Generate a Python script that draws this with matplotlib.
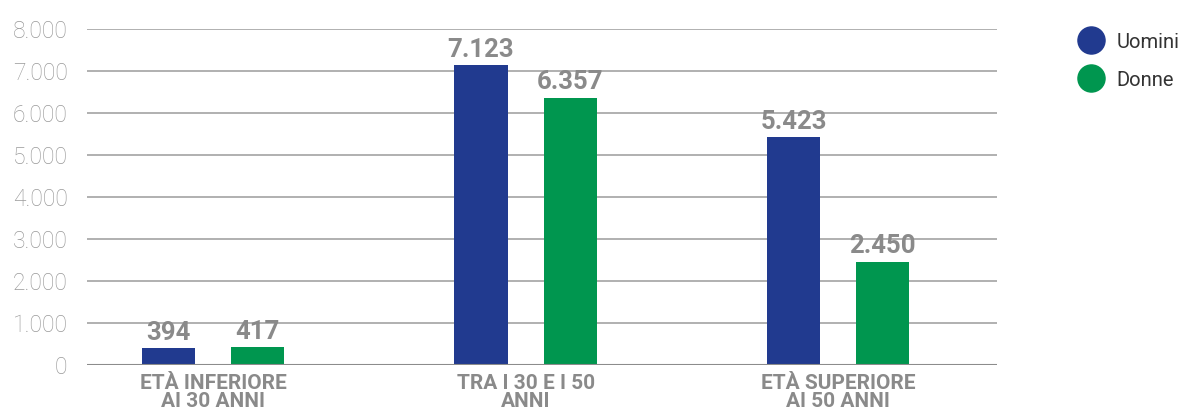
import matplotlib
matplotlib.use("Agg")
import matplotlib.pyplot as plt
from matplotlib.lines import Line2D
import numpy as np

# Dipendenti per fascia d'età e genere
categorie = ["ETÀ INFERIORE\nAI 30 ANNI", "TRA I 30 E I 50\nANNI", "ETÀ SUPERIORE\nAI 50 ANNI"]
uomini = [394, 7123, 5423]
donne = [417, 6357, 2450]
serie = ["Uomini", "Donne"]
yticks = [0, 1000, 2000, 3000, 4000, 5000, 6000, 7000, 8000]

BLU = "#213A8F"
VERDE = "#00964F"
GRIGIO = "#8A8A8A"

def fmt(v):
    return f"{v:,}".replace(",", ".")

fig = plt.figure(figsize=(11.86, 4.14), dpi=100)
ax = fig.add_axes([87 / 1186, 1 - 365.5 / 414, (997 - 87) / 1186, (365.5 - 29.5) / 414])

x = np.arange(len(categorie))
w = 0.17
off = 0.1426
b1 = ax.bar(x - off, uomini, w, color=BLU, zorder=3)
b2 = ax.bar(x + off, donne, w, color=VERDE, zorder=3)

for bars, vals in ((b1, uomini), (b2, donne)):
    for r, v in zip(bars, vals):
        ax.annotate(fmt(v), (r.get_x() + r.get_width() / 2, r.get_height()),
                    xytext=(0, 3), textcoords="offset points",
                    ha="center", va="bottom", fontsize=18.5,
                    fontweight="bold", family="Roboto", color=GRIGIO)

ax.set_xlim(-0.404, 2.509)
ax.set_ylim(0, 8000)
ax.set_yticks(yticks)
ax.set_yticklabels([fmt(t) for t in yticks], fontsize=16.5, family="Roboto",
                   fontweight="light", color="#999999")
ax.set_xticks(x)
ax.set_xticklabels(categorie, fontsize=15, family="Roboto", fontweight="bold",
                   color=GRIGIO, linespacing=0.95)
ax.tick_params(axis="y", length=0, pad=14)
ax.tick_params(axis="x", length=0, pad=6)

ax.grid(axis="y", color="#AAAAAA", linewidth=1.3, zorder=0)
ax.axhline(0, color="#8C8C8C", linewidth=1.5, zorder=4)
for s in ax.spines.values():
    s.set_visible(False)

handles = [Line2D([], [], marker="o", linestyle="", markersize=19.5,
                  markerfacecolor=c, markeredgecolor=c) for c in (BLU, VERDE)]
fig.legend(handles, serie, loc="upper left", bbox_to_anchor=(1077 / 1186, 1 - 33 / 414),
           frameon=False, prop={"family": "Roboto", "size": 14.5},
           labelcolor="#333333", handletextpad=0.55, labelspacing=0.95,
           borderaxespad=0, borderpad=0, handlelength=1.4)

fig.savefig("out.png", dpi=100)
